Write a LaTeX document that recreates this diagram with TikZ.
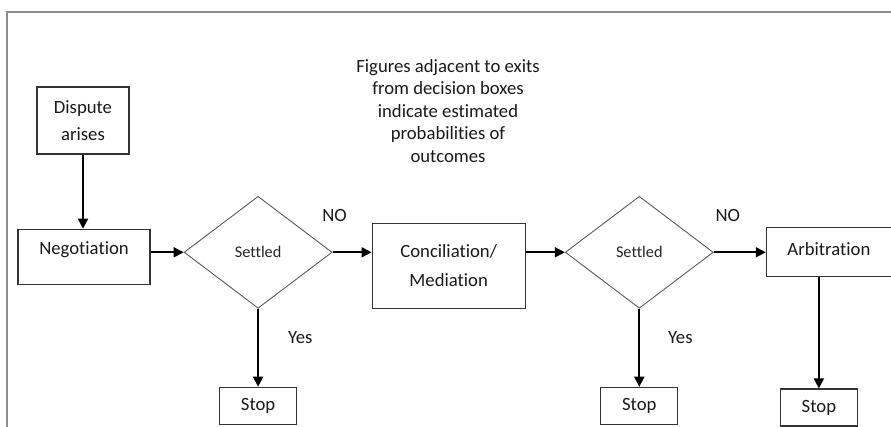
\documentclass[tikz,border=0pt]{standalone}
\usepackage{fontspec}
\setmainfont{Carlito}[Ligatures={NoCommon,NoContextual}]
\usepackage{xcolor}
\usetikzlibrary{arrows.meta,positioning,shapes.geometric}

\begin{document}
\begin{tikzpicture}[x=1pt,y=1pt,
  font=\fontsize{18.7}{22.5}\selectfont,
  proc/.style={draw=black!80,line width=1.3pt,inner sep=0pt,align=center,text=black!90},
  dec/.style={diamond,draw=black!65,line width=0.9pt,inner sep=0pt,
              minimum width=148pt,minimum height=112pt,text=black!85,
              font=\fontsize{16.3}{19}\selectfont},
  halt/.style={proc,minimum width=77pt,minimum height=37pt},
  fl/.style={-{Triangle[length=10pt,width=10pt]},line width=1.8pt},
  et/.style={inner sep=0pt,text=black!90},
  marco/.style={draw=black!45,line width=1.2pt}]

  \useasboundingbox (0,0) rectangle (891,427);
  \draw[marco] (7,0) -- (7,415) -- (891,415);

  \node[et,align=center] (nota) at (448,316)
    {Figures adjacent to exits\\from decision boxes\\indicate estimated\\probabilities of\\outcomes};

  \node[proc,minimum width=92pt,minimum height=67pt] (disp) at (83,306.5) {Dispute\\[4pt]arises};
  \node[proc,below=74pt of disp,xshift=1pt,minimum width=132pt,
        text height=25.5pt,text depth=29.5pt] (neg) {Negotiation};
  \node[dec,right=33pt of neg,yshift=4.5pt] (dia1) {Settled};
  \node[proc,right=39pt of dia1,yshift=-13.5pt,minimum width=153pt,minimum height=85pt] (conc)
    {Conciliation/\\[7pt]Mediation};
  \node[dec,right=39pt of conc,yshift=13.5pt] (dia2) {Settled};
  \node[proc,right=52pt of dia2,minimum width=125pt,
        text height=27.5pt,text depth=21.5pt] (arb) {Arbitration};

  \node[halt,below=78pt of dia1] (stop1) {Stop};
  \node[halt,below=78pt of dia2] (stop2) {Stop};
  \node[halt,below=111pt of arb,xshift=-10pt] (stop3) {Stop};

  \draw[fl] (disp.south) -- (disp.south |- neg.north);
  \draw[fl] (dia1.west -| neg.east) -- (dia1.west);
  \draw[fl] (dia1.east) -- node[et,pos=0.05,above=30pt]{NO} (dia1.east -| conc.west);
  \draw[fl] (conc.east |- dia2.west) -- (dia2.west);
  \draw[fl] (dia2.east) -- node[et,pos=0.27,above=30pt]{NO} (dia2.east -| arb.west);
  \draw[fl] (dia1.south) -- node[et,pos=0.37,right=29pt]{Yes} (stop1.north);
  \draw[fl] (dia2.south) -- node[et,pos=0.37,right=28pt]{Yes} (stop2.north);
  \draw[fl] (stop3.north |- arb.south) -- (stop3.north);
\end{tikzpicture}
\end{document}
